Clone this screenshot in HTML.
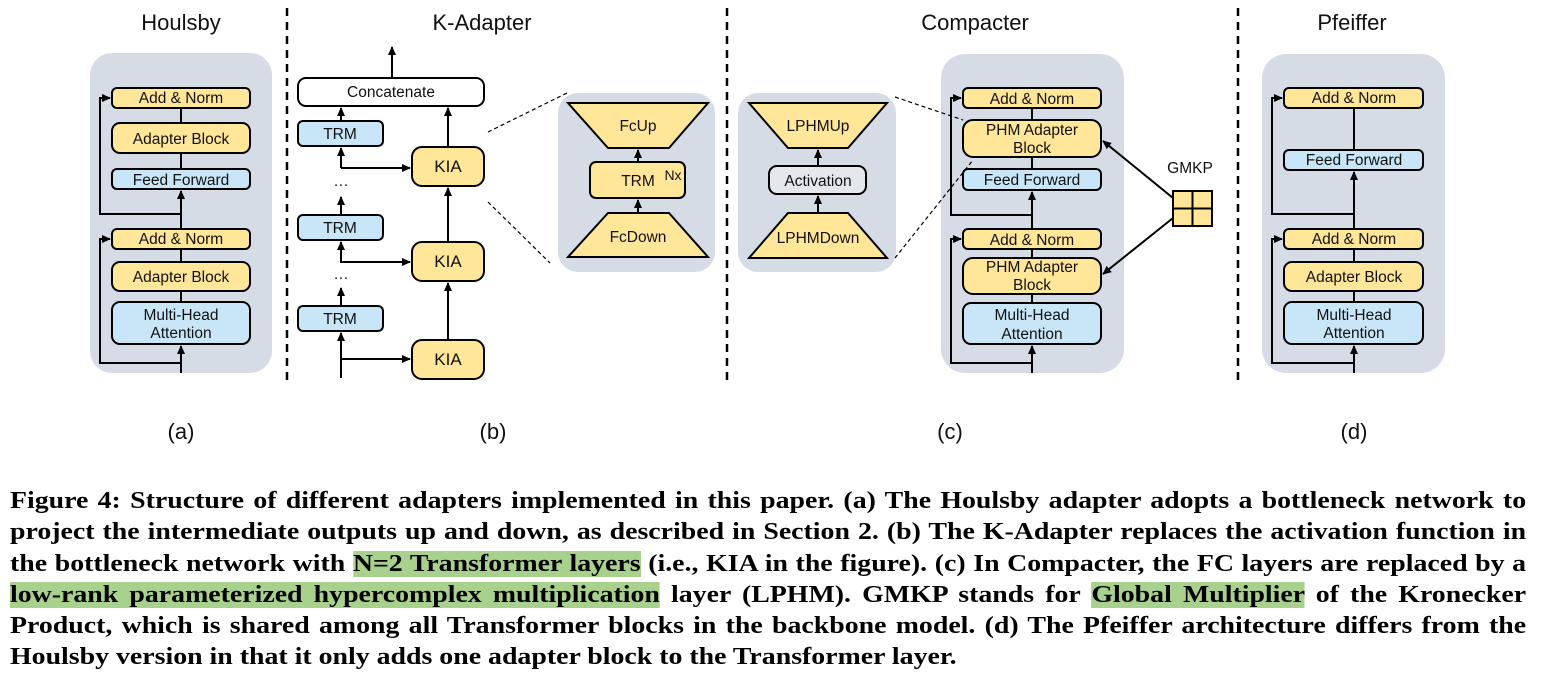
<!DOCTYPE html>
<html><head><meta charset="utf-8"><style>
body{margin:0;width:1552px;height:684px;background:#fff;position:relative;overflow:hidden}
svg{position:absolute;left:0;top:0}
.cap{position:absolute;left:10px;width:1307px;transform:scaleX(1.16);transform-origin:0 0;font-family:"Liberation Serif",serif;font-weight:bold;font-size:24px;line-height:31px;text-align:justify;text-align-last:justify;white-space:nowrap;color:#000}
.hl{background:#a9d18e}
</style></head><body>
<svg width="1552" height="684" viewBox="0 0 1552 684" font-family="Liberation Sans, sans-serif">
<defs><marker id="a" markerUnits="userSpaceOnUse" markerWidth="10" markerHeight="10" refX="8" refY="5" orient="auto"><path d="M0,1 L9,5 L0,9 z" fill="#000"/></marker></defs>
<g font-size="22" text-anchor="middle" fill="#111">
<text x="181" y="30">Houlsby</text><text x="482" y="30">K-Adapter</text><text x="975" y="30">Compacter</text><text x="1352" y="30">Pfeiffer</text>
<text x="181" y="439">(a)</text><text x="493" y="439">(b)</text><text x="950" y="439">(c)</text><text x="1354" y="439">(d)</text>
</g>
<g stroke="#000" stroke-width="2.5" stroke-dasharray="8,6"><line x1="287" y1="8" x2="287" y2="380"/><line x1="727" y1="8" x2="727" y2="380"/><line x1="1238" y1="8" x2="1238" y2="380"/></g>
<g fill="#d6dce5"><rect x="90" y="53" width="182" height="320" rx="22"/><rect x="558" y="93" width="157" height="179" rx="20"/><rect x="738" y="93" width="158" height="179" rx="20"/><rect x="941" y="54" width="183" height="319" rx="24"/><rect x="1262" y="54" width="183" height="319" rx="24"/></g>
<g stroke="#000" stroke-width="1.2" stroke-dasharray="4,3" fill="none"><line x1="488" y1="132" x2="567" y2="93"/><line x1="488" y1="202" x2="550" y2="263"/><line x1="895" y1="97" x2="963" y2="120"/><line x1="895" y1="258" x2="973" y2="160"/></g>
<g stroke="#000" stroke-width="2" fill="none">
<line x1="181" y1="373" x2="181" y2="346" marker-end="url(#a)"/><polyline points="181,363 100,363 100,239 110,239" marker-end="url(#a)"/>
<line x1="181" y1="229" x2="181" y2="191" marker-end="url(#a)"/><polyline points="181,214 100,214 100,98 110,98" marker-end="url(#a)"/>
<line x1="181" y1="108" x2="181" y2="123"/><line x1="181" y1="153" x2="181" y2="169"/><line x1="181" y1="249" x2="181" y2="262"/><line x1="181" y1="291" x2="181" y2="302"/>
<line x1="392" y1="78" x2="392" y2="47" marker-end="url(#a)"/>
<line x1="341" y1="378" x2="341" y2="333" marker-end="url(#a)"/><polyline points="341,359 410,359" marker-end="url(#a)"/>
<line x1="341" y1="306" x2="341" y2="288" marker-end="url(#a)"/>
<line x1="341" y1="263" x2="341" y2="242" marker-end="url(#a)"/><polyline points="341,262 410,262" marker-end="url(#a)"/>
<line x1="341" y1="215" x2="341" y2="197" marker-end="url(#a)"/>
<line x1="341" y1="168" x2="341" y2="148" marker-end="url(#a)"/><polyline points="341,168 410,168" marker-end="url(#a)"/>
<line x1="341" y1="121" x2="341" y2="108" marker-end="url(#a)"/>
<line x1="448" y1="340" x2="448" y2="283" marker-end="url(#a)"/><line x1="448" y1="242" x2="448" y2="188" marker-end="url(#a)"/><line x1="448" y1="147" x2="448" y2="108" marker-end="url(#a)"/>
<line x1="638" y1="162" x2="638" y2="150" marker-end="url(#a)"/><line x1="638" y1="213" x2="638" y2="200" marker-end="url(#a)"/>
<line x1="818" y1="166" x2="818" y2="150" marker-end="url(#a)"/><line x1="818" y1="213" x2="818" y2="196" marker-end="url(#a)"/>
<line x1="1032" y1="373" x2="1032" y2="346" marker-end="url(#a)"/><polyline points="1032,363 951,363 951,239 961,239" marker-end="url(#a)"/>
<line x1="1032" y1="229" x2="1032" y2="192" marker-end="url(#a)"/><polyline points="1032,215 951,215 951,98 961,98" marker-end="url(#a)"/>
<line x1="1032" y1="108" x2="1032" y2="120"/><line x1="1032" y1="157" x2="1032" y2="169"/><line x1="1032" y1="249" x2="1032" y2="258"/><line x1="1032" y1="294" x2="1032" y2="303"/>
<line x1="1173" y1="198" x2="1103" y2="141" marker-end="url(#a)"/><line x1="1173" y1="218" x2="1103" y2="274" marker-end="url(#a)"/>
<line x1="1354" y1="373" x2="1354" y2="346" marker-end="url(#a)"/><polyline points="1354,363 1272,363 1272,239 1282,239" marker-end="url(#a)"/>
<line x1="1354" y1="229" x2="1354" y2="172" marker-end="url(#a)"/><polyline points="1354,214 1272,214 1272,98 1282,98" marker-end="url(#a)"/>
<line x1="1354" y1="108" x2="1354" y2="150"/><line x1="1354" y1="249" x2="1354" y2="262"/><line x1="1354" y1="291" x2="1354" y2="302"/>
</g>
<g stroke="#000" stroke-width="2">
<g fill="#ffe699">
<rect x="112" y="88" width="138" height="20" rx="5"/><rect x="112" y="123" width="138" height="30" rx="8"/><rect x="112" y="229" width="138" height="20" rx="5"/><rect x="112" y="262" width="138" height="29" rx="8"/>
<rect x="412" y="147" width="72" height="39" rx="10"/><rect x="412" y="242" width="72" height="39" rx="10"/><rect x="412" y="340" width="72" height="39" rx="10"/>
<polygon points="568,103 708,103 669,148 608,148"/><rect x="590" y="162" width="95" height="36" rx="6"/><polygon points="608,213 669,213 708,257 568,257"/>
<polygon points="749,103 887,103 848,148 788,148"/><polygon points="788,213 848,213 887,258 749,258"/>
<rect x="963" y="88" width="138" height="20" rx="5"/><rect x="963" y="120" width="138" height="37" rx="10"/><rect x="963" y="229" width="138" height="20" rx="5"/><rect x="963" y="258" width="138" height="36" rx="10"/>
<rect x="1173" y="191" width="39" height="35"/>
<rect x="1284" y="88" width="139" height="20" rx="5"/><rect x="1284" y="229" width="139" height="20" rx="5"/><rect x="1284" y="262" width="139" height="29" rx="8"/>
</g>
<line x1="1192.5" y1="191" x2="1192.5" y2="226"/><line x1="1173" y1="208.5" x2="1212" y2="208.5"/>
<g fill="#c9e6f8">
<rect x="112" y="169" width="138" height="20" rx="5"/><rect x="112" y="302" width="138" height="42" rx="8"/>
<rect x="298" y="121" width="85" height="25" rx="5"/><rect x="298" y="215" width="85" height="25" rx="5"/><rect x="298" y="306" width="85" height="25" rx="5"/>
<rect x="963" y="169" width="138" height="21" rx="5"/><rect x="963" y="303" width="138" height="41" rx="8"/>
<rect x="1284" y="150" width="139" height="20" rx="5"/><rect x="1284" y="302" width="139" height="42" rx="8"/>
</g>
<rect x="298" y="78" width="186" height="28" rx="8" fill="#fff"/>
<rect x="769" y="166" width="97" height="28" rx="8" fill="#e4e7ec"/>
</g>
<g font-size="15.5" text-anchor="middle" fill="#111">
<text x="181" y="103">Add &amp; Norm</text><text x="181" y="144">Adapter Block</text><text x="181" y="185">Feed Forward</text><text x="181" y="244">Add &amp; Norm</text><text x="181" y="282">Adapter Block</text><text x="181" y="320">Multi-Head</text><text x="181" y="338">Attention</text>
<text x="391" y="97">Concatenate</text>
<text x="340" y="139">TRM</text><text x="340" y="233">TRM</text><text x="340" y="324">TRM</text>
<text x="341" y="186">…</text><text x="341" y="279">…</text>
<text x="448" y="172" font-size="17">KIA</text><text x="448" y="267" font-size="17">KIA</text><text x="448" y="365" font-size="17">KIA</text>
<text x="638" y="131">FcUp</text><text x="638" y="186">TRM</text><text x="673" y="180" font-size="14">Nx</text><text x="638" y="242">FcDown</text>
<text x="818" y="131">LPHMUp</text><text x="818" y="186">Activation</text><text x="818" y="243">LPHMDown</text>
<text x="1032" y="104">Add &amp; Norm</text><text x="1032" y="135">PHM Adapter</text><text x="1032" y="153">Block</text><text x="1032" y="185">Feed Forward</text><text x="1032" y="245">Add &amp; Norm</text><text x="1032" y="272">PHM Adapter</text><text x="1032" y="290">Block</text><text x="1032" y="320">Multi-Head</text><text x="1032" y="339">Attention</text>
<text x="1190" y="173">GMKP</text>
<text x="1354" y="103">Add &amp; Norm</text><text x="1354" y="165">Feed Forward</text><text x="1354" y="244">Add &amp; Norm</text><text x="1354" y="282">Adapter Block</text><text x="1354" y="320">Multi-Head</text><text x="1354" y="338">Attention</text>
</g>
</svg>
<div class="cap" style="top:486px">Figure 4: Structure of different adapters implemented in this paper. (a) The Houlsby adapter adopts a bottleneck network to</div>
<div class="cap" style="top:517px">project the intermediate outputs up and down, as described in Section 2. (b) The K-Adapter replaces the activation function in</div>
<div class="cap" style="top:549px">the bottleneck network with <span class="hl">N=2 Transformer layers</span> (i.e., KIA in the figure). (c) In Compacter, the FC layers are replaced by a</div>
<div class="cap" style="top:580px"><span class="hl">low-rank parameterized hypercomplex multiplication</span> layer (LPHM). GMKP stands for <span class="hl">Global Multiplier</span> of the Kronecker</div>
<div class="cap" style="top:611px">Product, which is shared among all Transformer blocks in the backbone model. (d) The Pfeiffer architecture differs from the</div>
<div class="cap" style="top:642px;text-align-last:left">Houlsby version in that it only adds one adapter block to the Transformer layer.</div>
</body></html>
